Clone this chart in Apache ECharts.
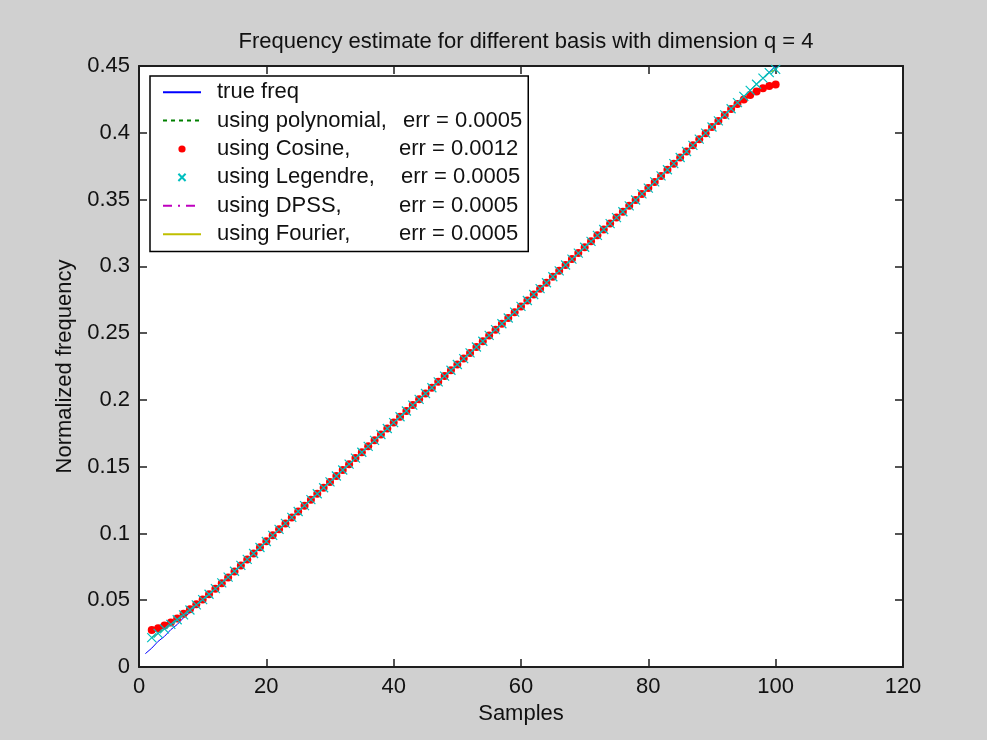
<!DOCTYPE html>
<html><head><meta charset="utf-8">
<script src="https://cdn.jsdelivr.net/npm/echarts@6/dist/echarts.min.js"></script>
<style>html,body{margin:0;padding:0;background:#d0d0d0}#c{width:987px;height:740px}</style>
</head><body><div id="c"></div>
<script>
// ---------- data ----------
const titleText = 'Frequency estimate for different basis with dimension q = 4';
const xName = 'Samples';
const yName = 'Normalized frequency';
const xTicks = [0, 20, 40, 60, 80, 100, 120];
const yTicks = [0, 0.05, 0.1, 0.15, 0.2, 0.25, 0.3, 0.35, 0.4, 0.45];

const seriesNames = ['true freq', 'using polynomial,', 'using Cosine,', 'using Legendre,', 'using DPSS,', 'using Fourier,'];
const errLabels = ['', 'err = 0.0005', 'err = 0.0012', 'err = 0.0005', 'err = 0.0005', 'err = 0.0005'];

// true frequency, samples 1..100
const trueStart = 1;
const trueFreq = [
 0.0100,0.0141,0.0192,0.0229,0.0280,0.0318,0.0369,0.0407,0.0457,0.0496,
 0.0545,0.0585,0.0634,0.0674,0.0722,0.0763,0.0811,0.0851,0.0899,0.0942,
 0.0987,0.1030,0.1076,0.1119,0.1165,0.1207,0.1254,0.1296,0.1343,0.1385,
 0.1431,0.1474,0.1520,0.1563,0.1609,0.1651,0.1698,0.1740,0.1787,0.1830,
 0.1875,0.1916,0.1962,0.2003,0.2049,0.2090,0.2136,0.2177,0.2223,0.2264,
 0.2310,0.2351,0.2397,0.2438,0.2484,0.2525,0.2571,0.2612,0.2658,0.2700,
 0.2745,0.2788,0.2834,0.2876,0.2923,0.2965,0.3011,0.3053,0.3100,0.3142,
 0.3188,0.3231,0.3277,0.3319,0.3366,0.3408,0.3454,0.3496,0.3543,0.3586,
 0.3633,0.3676,0.3724,0.3768,0.3816,0.3859,0.3907,0.3951,0.3998,0.4042,
 0.4090,0.4133,0.4181,0.4225,0.4273,0.4316,0.4364,0.4408,0.4455,0.4500];

// estimates, samples 2..100
const estStart = 2;
const polyEst = [
 0.0220,0.0252,0.0285,0.0319,0.0354,0.0390,0.0427,0.0465,0.0504,
 0.0545,0.0587,0.0630,0.0673,0.0717,0.0761,0.0806,0.0850,0.0895,0.0940,
 0.0986,0.1031,0.1075,0.1120,0.1164,0.1208,0.1253,0.1297,0.1342,0.1386,
 0.1430,0.1475,0.1519,0.1564,0.1608,0.1652,0.1697,0.1741,0.1786,0.1830,
 0.1874,0.1917,0.1961,0.2004,0.2048,0.2091,0.2135,0.2178,0.2222,0.2265,
 0.2309,0.2352,0.2396,0.2439,0.2483,0.2526,0.2570,0.2613,0.2657,0.2700,
 0.2744,0.2789,0.2833,0.2877,0.2922,0.2966,0.3010,0.3054,0.3099,0.3143,
 0.3187,0.3232,0.3276,0.3320,0.3365,0.3409,0.3453,0.3497,0.3542,0.3586,
 0.3632,0.3677,0.3723,0.3769,0.3815,0.3860,0.3906,0.3952,0.3997,0.4043,
 0.4089,0.4134,0.4180,0.4226,0.4272,0.4317,0.4363,0.4409,0.4450,0.4475];
const cosineEst = [
 0.0277,0.0290,0.0310,0.0334,0.0364,0.0398,0.0433,0.0469,0.0506,
 0.0545,0.0586,0.0628,0.0671,0.0715,0.0760,0.0805,0.0850,0.0896,0.0941,
 0.0986,0.1031,0.1075,0.1120,0.1164,0.1208,0.1253,0.1297,0.1342,0.1386,
 0.1430,0.1475,0.1519,0.1564,0.1608,0.1652,0.1697,0.1741,0.1786,0.1830,
 0.1874,0.1917,0.1961,0.2004,0.2048,0.2091,0.2135,0.2178,0.2222,0.2265,
 0.2309,0.2352,0.2396,0.2439,0.2483,0.2526,0.2570,0.2613,0.2657,0.2700,
 0.2744,0.2789,0.2833,0.2877,0.2922,0.2966,0.3010,0.3054,0.3099,0.3143,
 0.3187,0.3232,0.3276,0.3320,0.3365,0.3409,0.3453,0.3497,0.3542,0.3586,
 0.3632,0.3677,0.3723,0.3769,0.3815,0.3860,0.3906,0.3952,0.3997,0.4043,
 0.4089,0.4134,0.4178,0.4215,0.4250,0.4282,0.4310,0.4333,0.4350,0.4362];
// Legendre, DPSS and Fourier estimates coincide with the polynomial one on the plot
const legendreEst = polyEst;
const dpssEst = polyEst;
const fourierEst = polyEst;

// ---------- chart ----------
function pairs(arr, start) { return arr.map((v, i) => [start + i, v]); }

const FONT = 'Arial, "Liberation Sans", sans-serif';
const AX = '#1e1e1e';
const FS = 22;

const xMin = xTicks[0], xMax = xTicks[xTicks.length - 1];
const yMin = yTicks[0], yMax = yTicks[yTicks.length - 1];
const xStep = xTicks[1] - xTicks[0];
const yStep = 0.05;

function baseAxis(extra) {
  return Object.assign({
    type: 'value',
    axisLine: { show: true, onZero: false, lineStyle: { color: AX, width: 2 } },
    axisTick: { show: true, inside: true, length: 8, lineStyle: { color: AX, width: 1.5 } },
    splitLine: { show: false },
    axisLabel: { color: '#111', fontFamily: FONT, fontSize: FS },
  }, extra);
}

const xLine = { type: 'line', xAxisIndex: 0, yAxisIndex: 0, showSymbol: false, animation: false };
const lineOnly = [true, true, false, false, true, true];
const T = { fontFamily: FONT, fontSize: FS, color: '#111', lineHeight: 28.4 };

const chart = echarts.init(document.getElementById('c'), null, { renderer: 'canvas' });
chart.setOption({
  backgroundColor: '#d0d0d0',
  animation: false,
  title: {
    text: titleText, left: 521, top: 26, textAlign: 'center',
    textStyle: { fontFamily: FONT, fontSize: FS, fontWeight: 'normal', color: '#111' }
  },
  grid: { left: 139, right: 84, top: 66, bottom: 73, show: true, backgroundColor: '#ffffff', borderWidth: 0, containLabel: false },
  xAxis: [
    baseAxis({ min: xMin, max: xMax, interval: xStep, position: 'bottom',
      name: xName, nameLocation: 'middle', nameGap: 36,
      nameTextStyle: { fontFamily: FONT, fontSize: FS, color: '#111' },
      axisLabel: { color: '#111', fontFamily: FONT, fontSize: FS, margin: 9 } }),
    baseAxis({ min: xMin, max: xMax, interval: xStep, position: 'top', axisLabel: { show: false } })
  ],
  yAxis: [
    baseAxis({ min: yMin, max: yMax, interval: yStep, position: 'left',
      name: yName, nameLocation: 'middle', nameGap: 62,
      nameTextStyle: { fontFamily: FONT, fontSize: FS, color: '#111' },
      axisLabel: { color: '#111', fontFamily: FONT, fontSize: FS, margin: 9,
        formatter: v => String(+v.toFixed(2)) } }),
    baseAxis({ min: yMin, max: yMax, interval: yStep, position: 'right', axisLabel: { show: false } })
  ],
  legend: {
    orient: 'vertical', left: 150, top: 76,
    backgroundColor: '#ffffff', borderColor: '#000', borderWidth: 1.5, borderRadius: 0,
    padding: [2, 6, 3, 12], itemGap: 0, itemWidth: 38, itemHeight: 9,
    data: seriesNames.map((n, i) => lineOnly[i] ? { name: n, itemStyle: { opacity: 0 } } : { name: n }),
    formatter: function (name) {
      const i = seriesNames.indexOf(name);
      if (!errLabels[i]) return '{s|}{t|' + name + '}';
      return '{s|}{a' + i + '|' + name + '}{b|' + errLabels[i] + '}';
    },
    textStyle: Object.assign({}, T, {
      rich: {
        s: { width: 11 },
        t: T,
        a1: Object.assign({ width: 186 }, T),
        a2: Object.assign({ width: 182 }, T),
        a3: Object.assign({ width: 184 }, T),
        a4: Object.assign({ width: 182 }, T),
        a5: Object.assign({ width: 182 }, T),
        b: T
      }
    })
  },
  series: [
    Object.assign({}, xLine, { name: seriesNames[0], data: pairs(trueFreq, trueStart), symbol: 'none',
      lineStyle: { color: '#0000ff', width: 1 }, itemStyle: { color: '#0000ff' } }),
    Object.assign({}, xLine, { name: seriesNames[1], data: pairs(polyEst, estStart), symbol: 'none',
      lineStyle: { color: '#008000', width: 1, type: [4, 4] }, itemStyle: { color: '#008000' } }),
    Object.assign({}, xLine, { name: seriesNames[2], data: pairs(cosineEst, estStart), symbol: 'circle', symbolSize: 8, showSymbol: true,
      lineStyle: { color: '#ff0000', width: 0 }, itemStyle: { color: '#ff0000' } }),
    Object.assign({}, xLine, { name: seriesNames[3], data: pairs(legendreEst, estStart),
      symbol: 'path://M0,0L10,10M10,0L0,10', symbolSize: 9, showSymbol: true,
      lineStyle: { color: '#00bfbf', width: 0 }, itemStyle: { color: '#00bfbf', borderColor: '#00bfbf', borderWidth: 1.2 } }),
    Object.assign({}, xLine, { name: seriesNames[4], data: pairs(dpssEst, estStart), symbol: 'none',
      lineStyle: { color: '#bf00bf', width: 1, type: [9, 6, 2, 6] }, itemStyle: { color: '#bf00bf' } }),
    Object.assign({}, xLine, { name: seriesNames[5], data: pairs(fourierEst, estStart), symbol: 'none',
      lineStyle: { color: '#bfbf00', width: 1 }, itemStyle: { color: '#bfbf00' } })
  ]
});
</script></body></html>
